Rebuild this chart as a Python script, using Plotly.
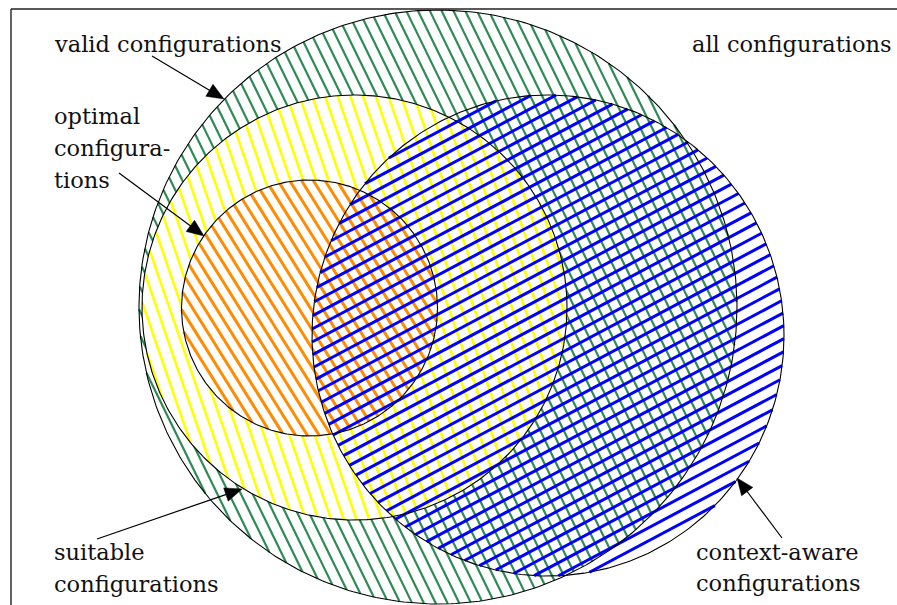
import numpy as np
import plotly.graph_objects as go

W, H = 897, 605

# ---- sets of the Venn diagram (drawn in order, bottom to top) ----
set_names = ["valid configurations", "suitable configurations",
             "optimal configurations", "context-aware configurations"]
set_cx = [438.0, 354.5, 309.5, 548.0]
set_cy = [307.0, 307.5, 308.0, 335.5]
set_rx = [299.0, 212.5, 128.0, 236.0]
set_ry = [297.0, 212.5, 128.0, 240.5]

# ---- hatch styles ----
hatch_colors = ["#2e8b57", "#ffff00", "#ff8c00", "#0000ff"]
hatch_angles = [64.0, 71.0, 58.0, -28.0]      # degrees, screen coords (y down)
hatch_spacing = [10.6, 12.0, 10.0, 11.5]
hatch_widths = [2.2, 2.6, 3.0, 3.0]
opaque_fill = [True, True, True, False]

# ---- labels ----
label_text = ["valid configurations", "all configurations",
              "optimal", "configura-", "tions",
              "suitable", "configurations",
              "context-aware", "configurations"]
label_x = [52, 894, 52, 52, 52, 52, 52, 694, 694]
label_base = [52, 52, 124, 156, 188, 560, 592, 560, 591]
label_anchor = ["left", "right", "left", "left", "left", "left", "left", "left", "left"]

# ---- arrows: tail -> tip ----
arrow_tail = [(152, 56), (119, 173), (97, 539), (782, 538)]
arrow_tip = [(224, 99), (204, 236), (242, 489), (737, 478)]

FONT = "DejaVu Serif"
FS = 22.5

fig = go.Figure()


def ellipse_xy(cx, cy, rx, ry, n=400):
    t = np.linspace(0, 2 * np.pi, n)
    return cx + rx * np.cos(t), cy + ry * np.sin(t)


def hatch_xy(cx, cy, rx, ry, ang, sp):
    th = np.deg2rad(ang)
    d = np.array([np.cos(th), np.sin(th)])
    nrm = np.array([-np.sin(th), np.cos(th)])
    c = np.array([cx, cy])
    c_proj = nrm @ c
    rmax = max(rx, ry)
    kmin = int(np.floor((c_proj - rmax) / sp)) - 1
    kmax = int(np.ceil((c_proj + rmax) / sp)) + 1
    xs, ys = [], []
    for k in range(kmin, kmax + 1):
        t0 = k * sp - c_proj
        a = (d[0] / rx) ** 2 + (d[1] / ry) ** 2
        b = 2 * ((nrm[0] * t0 * d[0]) / rx ** 2 + (nrm[1] * t0 * d[1]) / ry ** 2)
        cc = (nrm[0] * t0 / rx) ** 2 + (nrm[1] * t0 / ry) ** 2 - 1
        disc = b * b - 4 * a * cc
        if disc <= 0:
            continue
        u1 = (-b - np.sqrt(disc)) / (2 * a)
        u2 = (-b + np.sqrt(disc)) / (2 * a)
        p1 = c + nrm * t0 + d * u1
        p2 = c + nrm * t0 + d * u2
        xs += [p1[0], p2[0], None]
        ys += [p1[1], p2[1], None]
    return xs, ys


for i in range(len(set_names)):
    if opaque_fill[i]:
        ex, ey = ellipse_xy(set_cx[i], set_cy[i], set_rx[i], set_ry[i])
        fig.add_trace(go.Scatter(x=ex, y=ey, mode="lines", fill="toself",
                                 fillcolor="white", line=dict(width=0, color="white"),
                                 hoverinfo="skip", showlegend=False))
    hx, hy = hatch_xy(set_cx[i], set_cy[i], set_rx[i], set_ry[i],
                      hatch_angles[i], hatch_spacing[i])
    fig.add_trace(go.Scatter(x=hx, y=hy, mode="lines",
                             line=dict(width=hatch_widths[i], color=hatch_colors[i]),
                             hoverinfo="skip", showlegend=False, name=set_names[i]))

for i in range(len(set_names)):
    ex, ey = ellipse_xy(set_cx[i], set_cy[i], set_rx[i], set_ry[i])
    fig.add_trace(go.Scatter(x=ex, y=ey, mode="lines",
                             line=dict(width=1.1, color="black"),
                             hoverinfo="skip", showlegend=False))

HL, HW = 17.0, 7.0
for (tx, ty), (px, py) in zip(arrow_tail, arrow_tip):
    v = np.array([px - tx, py - ty], dtype=float)
    u = v / np.linalg.norm(v)
    perp = np.array([-u[1], u[0]])
    base = np.array([px, py]) - u * HL
    fig.add_trace(go.Scatter(x=[tx, base[0] + u[0] * 2], y=[ty, base[1] + u[1] * 2],
                             mode="lines", line=dict(width=1.2, color="black"),
                             hoverinfo="skip", showlegend=False))
    c1 = base + perp * HW
    c2 = base - perp * HW
    fig.add_trace(go.Scatter(x=[px, c1[0], c2[0], px], y=[py, c1[1], c2[1], py],
                             mode="lines", fill="toself", fillcolor="black",
                             line=dict(width=0.5, color="black"),
                             hoverinfo="skip", showlegend=False))

fig.add_shape(type="line", x0=11, y0=9, x1=W + 5, y1=9,
              line=dict(color="#222", width=1.4))
fig.add_shape(type="line", x0=11, y0=9, x1=11, y1=H + 5,
              line=dict(color="#222", width=1.4))

for t, x, yb, anc in zip(label_text, label_x, label_base, label_anchor):
    fig.add_annotation(x=x, y=yb - 0.36 * FS, text=t, showarrow=False,
                       xanchor=anc, yanchor="middle",
                       font=dict(family=FONT, size=FS, color="#111"))

fig.update_layout(
    width=W, height=H,
    margin=dict(l=0, r=0, t=0, b=0),
    paper_bgcolor="white", plot_bgcolor="white",
    xaxis=dict(range=[0, W], visible=False, fixedrange=True),
    yaxis=dict(range=[H, 0], visible=False, fixedrange=True),
    showlegend=False,
)

fig.write_html("out.html", config={"displayModeBar": False},
               post_script="document.body.style.margin='0';document.body.style.overflow='hidden';")
